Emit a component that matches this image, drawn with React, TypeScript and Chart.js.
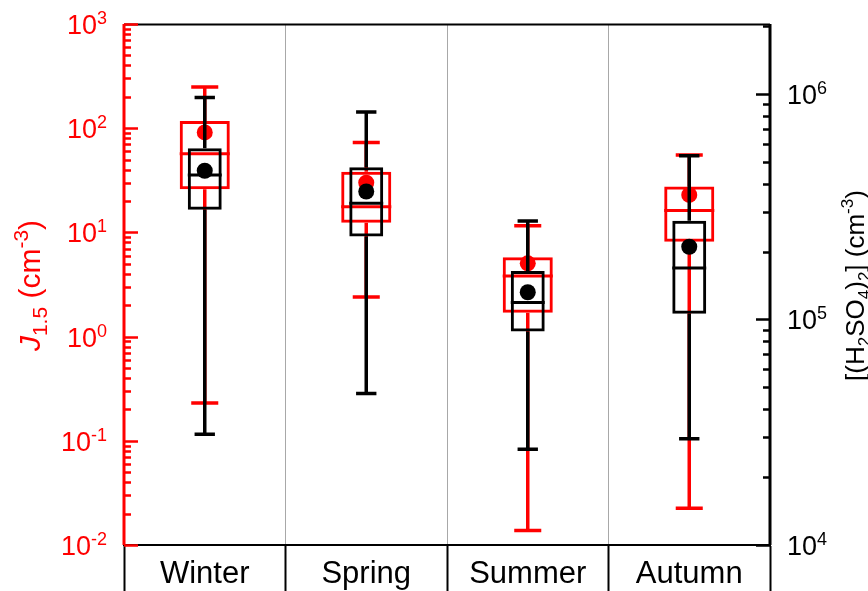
import React, { useEffect, useRef } from 'react';
import { Chart, registerables } from 'chart.js';

Chart.register(...registerables);

// ---------- data ----------
const seasons = ['Winter', 'Spring', 'Summer', 'Autumn'];

// J1.5 (cm^-3), left axis
const jMin = [0.23, 2.4, 0.0138, 0.0225];
const jQ1 = [25.9, 12.4, 1.69, 8.15];
const jMedian = [57, 17.6, 3.82, 16.2];
const jQ3 = [117, 38.3, 5.77, 27.5];
const jMax = [248, 73, 11.6, 55.3];
const jMean = [91, 30, 5.05, 22.9];

// [(H2SO4)2] (cm^-3), right axis
const dMin = [3.1e4, 4.69e4, 2.66e4, 2.96e4];
const dQ1 = [3.06e5, 2.33e5, 8.83e4, 1.06e5];
const dMedian = [4.37e5, 3.27e5, 1.19e5, 1.69e5];
const dQ3 = [5.74e5, 4.73e5, 1.64e5, 2.74e5];
const dMax = [9.63e5, 8.3e5, 2.73e5, 5.31e5];
const dMean = [4.56e5, 3.69e5, 1.32e5, 2.1e5];

const leftTickExponents = [-2, -1, 0, 1, 2, 3];
const rightTickExponents = [4, 5, 6];
const leftRange = [0.01, 1000];
const rightRange = [1e4, 2.04e6];

// ---------- styles ----------
const RED = '#ff0000';
const BLACK = '#000000';
const FONT = '"Liberation Sans", Arial, Helvetica, sans-serif';

type Seg = { t: string; size: number; dy?: number; italic?: boolean };

function segFont(s: Seg) {
  return `${s.italic ? 'italic ' : ''}${s.size}px ${FONT}`;
}
function richWidth(ctx: CanvasRenderingContext2D, segs: Seg[]) {
  let w = 0;
  for (const s of segs) {
    ctx.font = segFont(s);
    w += ctx.measureText(s.t).width;
  }
  return w;
}
function drawRich(ctx: CanvasRenderingContext2D, segs: Seg[], x: number, y: number) {
  let cx = x;
  ctx.textAlign = 'left';
  ctx.textBaseline = 'alphabetic';
  for (const s of segs) {
    ctx.font = segFont(s);
    ctx.fillText(s.t, cx, y + (s.dy || 0));
    cx += ctx.measureText(s.t).width;
  }
}

function drawLogTicks(
  ctx: CanvasRenderingContext2D,
  scale: any,
  x: number,
  dir: number,
  range: number[],
  color: string
) {
  ctx.save();
  ctx.strokeStyle = color;
  ctx.lineWidth = 2.5;
  const e0 = Math.floor(Math.log10(range[0]));
  const e1 = Math.ceil(Math.log10(range[1]));
  ctx.beginPath();
  for (let e = e0; e <= e1; e++) {
    for (let m = 1; m <= 9; m++) {
      const v = m * Math.pow(10, e);
      if (v < range[0] * 0.999 || v > range[1] * 1.001) continue;
      const y = Math.round(scale.getPixelForValue(v)) + 0.5;
      const len = m === 1 ? 14 : 7;
      ctx.moveTo(x, y);
      ctx.lineTo(x + dir * len, y);
    }
  }
  ctx.stroke();
  ctx.restore();
}

function drawPowerLabel(
  ctx: CanvasRenderingContext2D,
  exp: number,
  x: number,
  y: number,
  align: 'left' | 'right',
  color: string
) {
  const segs: Seg[] = [
    { t: '10', size: 27 },
    { t: String(exp), size: 18, dy: -10 },
  ];
  const w = richWidth(ctx, segs);
  ctx.fillStyle = color;
  drawRich(ctx, segs, align === 'right' ? x - w : x, y + 10);
}

const boxPlugin = {
  id: 'boxParts',
  beforeDatasetDraw(chart: any, args: any) {
    const ds = chart.data.datasets[args.index];
    if (!ds.stats) return;
    const yScale = chart.scales[ds.yAxisID];
    const ctx: CanvasRenderingContext2D = chart.ctx;
    ctx.save();
    ctx.strokeStyle = ds.borderColor;
    ctx.lineWidth = 3.5;
    args.meta.data.forEach((bar: any, i: number) => {
      const x = bar.x;
      const yMax = yScale.getPixelForValue(ds.stats.max[i]);
      const yMin = yScale.getPixelForValue(ds.stats.min[i]);
      const yQ3 = yScale.getPixelForValue(ds.stats.q3[i]);
      const yQ1 = yScale.getPixelForValue(ds.stats.q1[i]);
      const hw = (bar.width * ds.capFrac) / 2;
      ctx.beginPath();
      ctx.moveTo(x, yQ3);
      ctx.lineTo(x, yMax);
      ctx.moveTo(x, yQ1);
      ctx.lineTo(x, yMin);
      ctx.moveTo(x - hw, yMax);
      ctx.lineTo(x + hw, yMax);
      ctx.moveTo(x - hw, yMin);
      ctx.lineTo(x + hw, yMin);
      ctx.stroke();
    });
    ctx.restore();
  },
  afterDatasetDraw(chart: any, args: any) {
    const ds = chart.data.datasets[args.index];
    if (!ds.stats) return;
    const yScale = chart.scales[ds.yAxisID];
    const ctx: CanvasRenderingContext2D = chart.ctx;
    ctx.save();
    ctx.strokeStyle = ds.borderColor;
    ctx.lineWidth = 3;
    args.meta.data.forEach((bar: any, i: number) => {
      const y = yScale.getPixelForValue(ds.stats.median[i]);
      ctx.beginPath();
      ctx.moveTo(bar.x - bar.width / 2, y);
      ctx.lineTo(bar.x + bar.width / 2, y);
      ctx.stroke();
    });
    ctx.restore();
  },
  afterDraw(chart: any) {
    const ctx: CanvasRenderingContext2D = chart.ctx;
    const { left, right, top, bottom } = chart.chartArea;
    const yL = chart.scales.yL;
    const yR = chart.scales.yR;
    ctx.save();
    // frame
    ctx.strokeStyle = BLACK;
    ctx.lineWidth = 2;
    ctx.beginPath();
    ctx.moveTo(left, top + 0.5);
    ctx.lineTo(right, top + 0.5);
    ctx.stroke();
    ctx.lineWidth = 3;
    ctx.beginPath();
    ctx.moveTo(right, top);
    ctx.lineTo(right, bottom);
    ctx.stroke();
    ctx.strokeStyle = RED;
    ctx.beginPath();
    ctx.moveTo(left, top);
    ctx.lineTo(left, bottom);
    ctx.stroke();
    // ticks
    drawLogTicks(ctx, yL, left, 1, leftRange, RED);
    drawLogTicks(ctx, yR, right, -1, rightRange, BLACK);
    // tick labels
    leftTickExponents.forEach((e) => {
      drawPowerLabel(ctx, e, left - 17, yL.getPixelForValue(Math.pow(10, e)), 'right', RED);
    });
    rightTickExponents.forEach((e) => {
      drawPowerLabel(ctx, e, right + 17, yR.getPixelForValue(Math.pow(10, e)), 'left', BLACK);
    });
    // left title
    const lt: Seg[] = [
      { t: 'J', size: 30, italic: true },
      { t: '1.5', size: 21, dy: 7 },
      { t: ' (cm', size: 30 },
      { t: '-3', size: 21, dy: -12 },
      { t: ')', size: 30 },
    ];
    ctx.fillStyle = RED;
    ctx.save();
    ctx.translate(40, (top + bottom) / 2 + 1);
    ctx.rotate(-Math.PI / 2);
    drawRich(ctx, lt, -richWidth(ctx, lt) / 2, 0);
    ctx.restore();
    // right title
    const rt: Seg[] = [
      { t: '[(H', size: 26 },
      { t: '2', size: 17, dy: 6 },
      { t: 'SO', size: 26 },
      { t: '4', size: 17, dy: 6 },
      { t: ')', size: 26 },
      { t: '2', size: 17, dy: 6 },
      { t: '] (cm', size: 26 },
      { t: '-3', size: 17, dy: -11 },
      { t: ')', size: 26 },
    ];
    ctx.fillStyle = BLACK;
    ctx.save();
    ctx.translate(864, (top + bottom) / 2 + 1);
    ctx.rotate(-Math.PI / 2);
    drawRich(ctx, rt, -richWidth(ctx, rt) / 2, 0);
    ctx.restore();
    ctx.restore();
  },
};

export default function App() {
  const ref = useRef<HTMLCanvasElement>(null);
  useEffect(() => {
    const chart = new Chart(ref.current as HTMLCanvasElement, {
      type: 'bar',
      data: {
        labels: seasons,
        datasets: [
          {
            type: 'bar',
            label: 'J1.5 box',
            data: seasons.map((_, i) => [jQ1[i], jQ3[i]]) as any,
            yAxisID: 'yL',
            backgroundColor: 'rgba(0,0,0,0)',
            borderColor: RED,
            borderWidth: 3,
            borderSkipped: false,
            grouped: false,
            barPercentage: 0.31,
            categoryPercentage: 1,
            order: 4,
            stats: { min: jMin, q1: jQ1, median: jMedian, q3: jQ3, max: jMax },
            capFrac: 0.54,
          } as any,
          {
            type: 'line',
            label: 'J1.5 mean',
            data: jMean,
            yAxisID: 'yL',
            showLine: false,
            pointRadius: 8,
            pointBorderWidth: 0,
            pointBackgroundColor: RED,
            borderColor: RED,
            order: 3,
          } as any,
          {
            type: 'bar',
            label: 'dimer box',
            data: seasons.map((_, i) => [dQ1[i], dQ3[i]]) as any,
            yAxisID: 'yR',
            backgroundColor: 'rgba(0,0,0,0)',
            borderColor: BLACK,
            borderWidth: 3,
            borderSkipped: false,
            grouped: false,
            barPercentage: 0.21,
            categoryPercentage: 1,
            order: 2,
            stats: { min: dMin, q1: dQ1, median: dMedian, q3: dQ3, max: dMax },
            capFrac: 0.6,
          } as any,
          {
            type: 'line',
            label: 'dimer mean',
            data: dMean,
            yAxisID: 'yR',
            showLine: false,
            pointRadius: 8,
            pointBorderWidth: 0,
            pointBackgroundColor: BLACK,
            borderColor: BLACK,
            order: 1,
          } as any,
        ],
      },
      options: {
        responsive: false,
        animation: false,
        devicePixelRatio: 1,
        layout: { padding: { top: 24, left: 0, right: 0, bottom: 0 } },
        plugins: { legend: { display: false }, tooltip: { enabled: false } },
        scales: {
          x: {
            type: 'category',
            offset: true,
            grid: {
              offset: true,
              color: '#a8a8a8',
              lineWidth: 1,
              tickColor: BLACK,
              tickWidth: 2,
              tickLength: 46,
              drawTicks: true,
            },
            border: { color: BLACK, width: 2 },
            ticks: {
              color: BLACK,
              font: { size: 31, family: FONT },
              padding: -35,
              maxRotation: 0,
              minRotation: 0,
              autoSkip: false,
            },
            afterFit: (s: any) => {
              s.height = 46;
            },
          },
          yL: {
            type: 'logarithmic',
            position: 'left',
            min: leftRange[0],
            max: leftRange[1],
            bounds: 'data',
            grid: { display: false },
            border: { display: false },
            ticks: { display: false },
            afterFit: (s: any) => {
              s.width = 124;
            },
          },
          yR: {
            type: 'logarithmic',
            position: 'right',
            min: rightRange[0],
            max: rightRange[1],
            bounds: 'data',
            grid: { display: false },
            border: { display: false },
            ticks: { display: false },
            afterFit: (s: any) => {
              s.width = 98;
            },
          },
        } as any,
      },
      plugins: [boxPlugin as any],
    });
    return () => chart.destroy();
  }, []);
  return (
    <div
      style={{
        position: 'fixed',
        left: 0,
        top: 0,
        width: 868,
        height: 591,
        background: '#ffffff',
      }}
    >
      <canvas ref={ref} width={868} height={591} style={{ display: 'block' }} />
    </div>
  );
}
